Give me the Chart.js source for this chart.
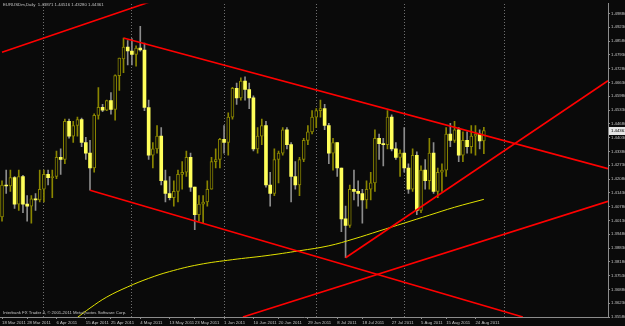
<!DOCTYPE html>
<html>
<head>
<meta charset="utf-8">
<script src="https://cdn.jsdelivr.net/npm/chart.js@4.4.1/dist/chart.umd.min.js"></script>
<style>
html, body { margin: 0; padding: 0; background: #0a0a0a; overflow: hidden; }
#wrap { width: 625px; height: 326px; }
</style>
</head>
<body>
<div id="wrap"><canvas id="mt4"></canvas></div>
<script>
// daily bars, 18 Mar 2011 .. 26 Aug 2011 (one per weekday)
var o = [1.4030,1.4180,1.4175,1.4215,1.4090,1.4220,1.4090,1.4080,1.4115,1.4110,
         1.4160,1.4230,1.4215,1.4220,1.4310,1.4300,1.4480,1.4410,1.4460,1.4488,
         1.4380,1.4330,1.4260,1.4508,1.4546,1.4532,1.4578,1.4536,1.4695,1.4774,
         1.4830,1.4811,1.4795,1.4825,1.4816,1.4545,1.4320,1.4350,1.4410,1.4200,
         1.4140,1.4120,1.4150,1.4230,1.4240,1.4310,1.4170,1.4040,1.4090,1.4100,
         1.4160,1.4290,1.4300,1.4395,1.4380,1.4500,1.4635,1.4590,1.4670,1.4630,
         1.4590,1.4350,1.4410,1.4460,1.4180,1.4140,1.4300,1.4330,1.4440,1.4370,
         1.4220,1.4180,1.4300,1.4390,1.4430,1.4500,1.4530,1.4540,1.4460,1.4330,
         1.4380,1.4260,1.4020,1.3990,1.4160,1.4150,1.4140,1.4110,1.4160,1.4190,
         1.4400,1.4375,1.4370,1.4500,1.4350,1.4310,1.4330,1.4260,1.4160,1.4320,
         1.4060,1.4250,1.4200,1.4330,1.4150,1.4240,1.4250,1.4420,1.4390,1.4440,
         1.4320,1.4390,1.4360,1.4410,1.4420,1.43871];
var h = [1.4200,1.4250,1.4250,1.4220,1.4250,1.4225,1.4130,1.4130,1.4140,1.4250,
         1.4250,1.4250,1.4250,1.4340,1.4350,1.4490,1.4490,1.4480,1.4500,1.4495,
         1.4405,1.4390,1.4515,1.4639,1.4560,1.4580,1.4615,1.4699,1.4778,1.4872,
         1.4860,1.4870,1.4835,1.4927,1.4848,1.4580,1.4380,1.4460,1.4450,1.4250,
         1.4220,1.4200,1.4250,1.4290,1.4340,1.4330,1.4170,1.4130,1.4130,1.4200,
         1.4310,1.4350,1.4400,1.4460,1.4520,1.4640,1.4660,1.4685,1.4690,1.4660,
         1.4600,1.4450,1.4490,1.4480,1.4240,1.4350,1.4340,1.4450,1.4450,1.4380,
         1.4290,1.4310,1.4400,1.4460,1.4530,1.4540,1.4580,1.4560,1.4470,1.4400,
         1.4380,1.4260,1.4080,1.4180,1.4250,1.4200,1.4160,1.4200,1.4240,1.4440,
         1.4420,1.4400,1.4530,1.4510,1.4380,1.4345,1.4450,1.4280,1.4350,1.4336,
         1.4270,1.4300,1.4400,1.4380,1.4260,1.4280,1.4450,1.4470,1.4480,1.4450,
         1.4430,1.4430,1.4460,1.4460,1.4440,1.44516];
var l = [1.4010,1.4140,1.4150,1.4070,1.4060,1.4050,1.4010,1.4000,1.4060,1.4100,
         1.4100,1.4180,1.4120,1.4210,1.4230,1.4280,1.4400,1.4380,1.4410,1.4360,
         1.4300,1.4155,1.4240,1.4490,1.4525,1.4530,1.4513,1.4485,1.4625,1.4709,
         1.4746,1.4746,1.4740,1.4810,1.4530,1.4300,1.4260,1.4330,1.4180,1.4100,
         1.4110,1.4080,1.4100,1.4160,1.4220,1.4150,1.3970,1.4010,1.4000,1.4080,
         1.4160,1.4260,1.4260,1.4330,1.4320,1.4490,1.4560,1.4580,1.4580,1.4540,
         1.4340,1.4330,1.4370,1.4170,1.4080,1.4130,1.4190,1.4320,1.4350,1.4100,
         1.4160,1.4130,1.4290,1.4370,1.4420,1.4450,1.4500,1.4440,1.4280,1.4250,
         1.4220,1.3960,1.3837,1.3980,1.4110,1.4080,1.4000,1.4070,1.4110,1.4150,
         1.4300,1.4270,1.4350,1.4340,1.4300,1.4220,1.4240,1.4140,1.4150,1.4040,
         1.4050,1.4160,1.4160,1.4140,1.4120,1.4150,1.4220,1.4360,1.4380,1.4290,
         1.4290,1.4330,1.4330,1.4320,1.4350,1.43280];
var c = [1.4180,1.4175,1.4215,1.4090,1.4220,1.4090,1.4080,1.4115,1.4110,1.4160,
         1.4230,1.4215,1.4220,1.4310,1.4300,1.4480,1.4410,1.4460,1.4488,1.4380,
         1.4330,1.4260,1.4508,1.4546,1.4532,1.4578,1.4536,1.4695,1.4778,1.4830,
         1.4811,1.4795,1.4825,1.4816,1.4545,1.4320,1.4350,1.4410,1.4200,1.4140,
         1.4120,1.4150,1.4230,1.4240,1.4310,1.4170,1.4040,1.4090,1.4100,1.4160,
         1.4290,1.4300,1.4395,1.4380,1.4500,1.4635,1.4590,1.4670,1.4630,1.4590,
         1.4350,1.4410,1.4460,1.4180,1.4140,1.4300,1.4330,1.4440,1.4370,1.4220,
         1.4180,1.4300,1.4390,1.4430,1.4500,1.4530,1.4540,1.4460,1.4330,1.4380,
         1.4260,1.4020,1.3990,1.4160,1.4150,1.4140,1.4110,1.4160,1.4190,1.4400,
         1.4375,1.4370,1.4500,1.4350,1.4310,1.4330,1.4260,1.4160,1.4320,1.4060,
         1.4250,1.4200,1.4330,1.4150,1.4240,1.4250,1.4420,1.4390,1.4440,1.4320,
         1.4390,1.4360,1.4410,1.4420,1.4387,1.44361];

// moving average (bar index, price)
var maIdx = [18, 21, 25, 30, 35, 40, 47, 55, 63, 71, 78, 84, 90, 96, 102, 108, 115];
var maVal = [1.35560,1.36000,1.36520,1.37000,1.37400,1.37720,1.38049,1.38282,1.38468,
             1.38701,1.38934,1.39260,1.39632,1.40005,1.40378,1.40750,1.41123];

// hand drawn trend lines, two anchors each (bar index, price)
var trendA = [[0, 1.48049], [40, 1.50742]];
var trendB = [[29, 1.4872], [144.63, 1.42567]];
var trendC = [[21, 1.4155], [124.3, 1.3558]];
var trendD = [[82, 1.3837], [144.63, 1.46713]];
var trendE = [[57.5, 1.3558], [144.63, 1.41030]];

var tickIdx = [0, 6, 13, 20, 26, 33, 40, 46, 53, 60, 66, 73, 80, 86, 93, 100, 106, 113];
var tickText = ['18 Mar 2011','28 Mar 2011','6 Apr 2011','15 Apr 2011','25 Apr 2011','4 May 2011',
                '13 May 2011','23 May 2011','1 Jun 2011','10 Jun 2011','20 Jun 2011','29 Jun 2011',
                '8 Jul 2011','18 Jul 2011','27 Jul 2011','5 Aug 2011','15 Aug 2011','24 Aug 2011'];
var monthIdx = [10, 31, 53, 75, 96, 120];
var priceTicks = [1.4988,1.4923,1.4858,1.4793,1.4728,1.4663,1.4598,1.4533,1.4468,1.4403,1.4338,
                  1.4273,1.4208,1.4143,1.4078,1.4013,1.3948,1.3883,1.3818,1.3753,1.3688,1.3623,1.3558];

var bg = '#0a0a0a', fg = '#c4c4c4', axisCol = '#8c8c8c';
var olive = '#8a8600', yel = '#ffff5a', wickDn = '#8c8c8c';
var tinyFont = {family: 'Liberation Sans', size: 4.3};

var bullBody = [], bearBody = [], bullWick = [], bearWick = [];
for (var i = 0; i < o.length; i++) {
    if (c[i] >= o[i]) {
        bullBody.push({x: i, y: [o[i], c[i]]});
        bullWick.push({x: i, y: [l[i], h[i]]});
    } else {
        bearBody.push({x: i, y: [c[i], o[i]]});
        bearWick.push({x: i, y: [l[i], h[i]]});
    }
}

function lineSet(pts) {
    return {
        type: 'line',
        data: pts.map(function(p){ return {x: p[0], y: p[1]}; }),
        borderColor: '#ff0000',
        borderWidth: 1.6,
        pointRadius: 0,
        xAxisID: 'x', yAxisID: 'y'
    };
}

var datasets = [
    lineSet(trendA), lineSet(trendB), lineSet(trendC), lineSet(trendD), lineSet(trendE),
    {
        type: 'line',
        data: maIdx.map(function(v, k){ return {x: v, y: maVal[k]}; }),
        borderColor: '#e2e200',
        borderWidth: 1,
        pointRadius: 0,
        tension: 0.4
    },
    {data: bullBody, backgroundColor: bg, borderColor: olive, borderWidth: 1, borderSkipped: false, barThickness: 3, grouped: false},
    {data: bearBody, backgroundColor: yel, borderWidth: 0, barThickness: 3, grouped: false},
    {data: bullWick, backgroundColor: olive, borderWidth: 0, barThickness: 1, grouped: false},
    {data: bearWick, backgroundColor: wickDn, borderWidth: 0, barThickness: 1, grouped: false}
];

// black background, header, copyright and the bid label on the price scale
var mtDecor = {
    id: 'mtDecor',
    beforeDraw: function(chart) {
        var ctx = chart.ctx;
        ctx.save();
        ctx.fillStyle = bg;
        ctx.fillRect(0, 0, chart.width, chart.height);
        ctx.restore();
    },
    afterDraw: function(chart) {
        var ctx = chart.ctx;
        var last = c.length - 1;
        ctx.save();
        ctx.font = '4.3px "Liberation Sans"';
        ctx.textBaseline = 'middle';
        ctx.fillStyle = fg;
        ctx.fillText('EURUSDm,Daily  ' + o[last].toFixed(5) + ' ' + h[last].toFixed(5) + ' ' +
                     l[last].toFixed(5) + ' ' + c[last].toFixed(5), 3, 5);
        ctx.fillText('Interbank FX Trader 4, \u00a9 2001-2011 MetaQuotes Software Corp.', 3, 313);
        var y = chart.scales.y.getPixelForValue(c[last]);
        var x0 = chart.chartArea.right + 1;
        ctx.fillStyle = '#e6e6e6';
        ctx.fillRect(x0, Math.round(y) - 4, chart.width - x0, 8);
        ctx.fillStyle = '#000000';
        ctx.fillText(c[last].toFixed(5), x0 + 2, Math.round(y));
        ctx.restore();
    }
};

new Chart(document.getElementById('mt4'), {
    type: 'bar',
    data: {datasets: datasets},
    options: {
        responsive: true,
        maintainAspectRatio: false,
        animation: false,
        devicePixelRatio: 1,
        layout: {padding: 0},
        plugins: {legend: {display: false}, tooltip: {enabled: false}},
        scales: {
            x: {
                type: 'linear',
                position: 'bottom',
                min: -0.48,
                max: 144.63,
                offset: false,
                grid: {offset: false, drawOnChartArea: false, drawTicks: true, tickLength: 2, color: axisCol},
                border: {display: true, color: axisCol},
                ticks: {
                    autoSkip: false, maxRotation: 0, align: 'start', padding: 1,
                    color: fg, font: tinyFont,
                    callback: function(v) { var k = tickIdx.indexOf(v); return k < 0 ? '' : tickText[k]; }
                },
                afterBuildTicks: function(s) { s.ticks = tickIdx.map(function(v){ return {value: v}; }); },
                afterFit: function(s) { s.height = 9; }
            },
            xGrid: {
                type: 'linear',
                position: 'top',
                min: -0.48,
                max: 144.63,
                offset: false,
                grid: {offset: false, drawOnChartArea: true, drawTicks: false, color: '#707070', lineWidth: 1},
                border: {display: false, dash: [1, 2]},
                ticks: {display: false},
                afterBuildTicks: function(s) { s.ticks = monthIdx.map(function(v){ return {value: v}; }); },
                afterFit: function(s) { s.height = 0; }
            },
            y: {
                type: 'linear',
                position: 'right',
                min: 1.3558,
                max: 1.50346,
                grid: {drawOnChartArea: false, drawTicks: true, tickLength: 2, color: axisCol},
                border: {display: true, color: axisCol},
                ticks: {
                    padding: 1, color: fg, font: tinyFont,
                    callback: function(v) { return v.toFixed(5); }
                },
                afterBuildTicks: function(s) { s.ticks = priceTicks.map(function(v){ return {value: v}; }); },
                afterFit: function(s) { s.width = 17; }
            }
        }
    },
    plugins: [mtDecor]
});
</script>
</body>
</html>
